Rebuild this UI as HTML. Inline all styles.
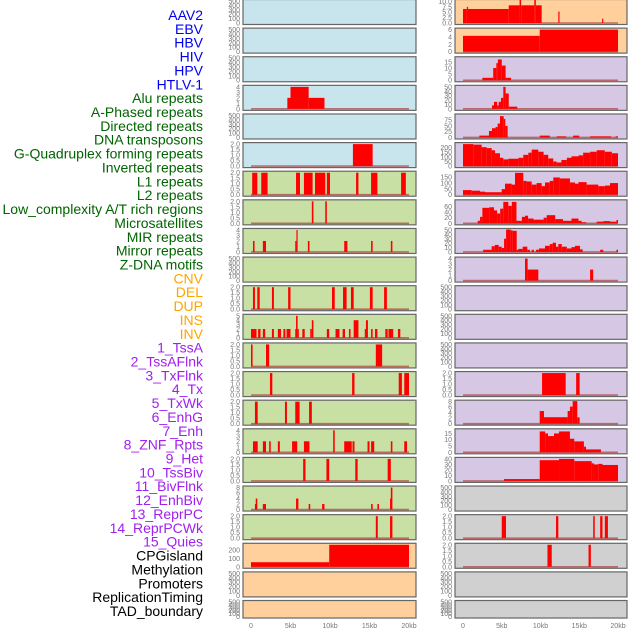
<!DOCTYPE html>
<html><head><meta charset="utf-8"><style>
html,body{margin:0;padding:0;background:#fff;width:630px;height:630px;overflow:hidden}
svg{display:block}
</style></head><body>
<svg id="chart" width="630" height="630" xmlns="http://www.w3.org/2000/svg" font-family="Liberation Sans, sans-serif"></svg>
<script>
const trackNames = ["AAV2","EBV","HBV","HIV","HPV","HTLV-1","Alu repeats","A-Phased repeats","Directed repeats","DNA transposons","G-Quadruplex forming repeats","Inverted repeats","L1 repeats","L2 repeats","Low_complexity A/T rich regions","Microsatellites","MIR repeats","Mirror repeats","Z-DNA motifs","CNV","DEL","DUP","INS","INV","1_TssA","2_TssAFlnk","3_TxFlnk","4_Tx","5_TxWk","6_EnhG","7_Enh","8_ZNF_Rpts","9_Het","10_TssBiv","11_BivFlnk","12_EnhBiv","13_ReprPC","14_ReprPCWk","15_Quies","CPGisland","Methylation","Promoters","ReplicationTiming","TAD_boundary"];
const trackGroups = ["v","v","v","v","v","v","r","r","r","r","r","r","r","r","r","r","r","r","r","s","s","s","s","s","c","c","c","c","c","c","c","c","c","c","c","c","c","c","c","o","o","o","o","o"];
const xTickKb = [0,5,10,15,20];
const xTickLabels = ["0","5kb","10kb","15kb","20kb"];
const T500=[0,100,200,300,400,500], T2=[0,0.5,1,1.5,2];
const panelTicks = [T500,T500,T500,[0,1,2,3,4],T500,T2,T2,T2,[0,1,2,3,4],T500,T2,[0,1,2,3,4,5],T2,T2,T2,[0,1,2,3,4],T2,[0,2,4,6,8],T2,[0,100,200],T500,T500,
 [0,2.5,5,7.5,10],[0,2,4,6],[0,5,10,15],[0,10,20,30,40,50],[0,25,50,75],[0,50,100,150,200],[0,50,100,150],[0,20,40,60],[0,10,20,30,40,50],[0,1,2,3,4],T500,T500,T500,T2,[0,2,4,6,8],[0,5,10,15],[0,10,20,30,40],T500,T2,T2,T500,T500];
const panelYMax = {19:265,22:10.2,24:18,26:95,27:236,28:185,29:78,37:17.5};
// segments: [startKb, endKb, value]
const panelSegs = {
3:[[4.6,5.0,2],[5.0,7.3,4],[7.3,9.3,2]],
5:[[12.9,15.4,2]],
6:[[0.15,0.8,2],[1.3,2.1,2],[5.7,6.2,2],[6.7,7.8,2],[8.1,9.4,2],[9.6,10.0,2],[13.3,13.6,2],[15.2,16.0,2],[19.0,19.6,2]],
7:[[7.7,7.9,2],[9.4,9.6,2]],
8:[[0.25,0.45,2],[1.5,1.9,2],[5.6,5.75,2],[5.75,5.9,4],[7.2,7.4,2],[11.8,12.2,2],[15.2,15.4,2],[17.7,17.9,2]],
10:[[0.25,0.5,2],[0.8,1.1,2],[2.65,2.9,2],[4.7,5.0,2],[10.25,10.6,2],[11.65,12.1,2],[12.65,13.0,2],[15.05,15.4,2],[16.85,17.2,2]],
11:[[0,0.7,2],[0.9,1.2,2],[1.5,1.8,2],[2.65,2.9,2],[3.4,3.8,2],[4.1,4.35,2],[4.5,5.0,2],[5.6,5.7,2],[5.7,5.9,5],[5.9,6.0,2],[6.5,6.8,2],[7.5,7.7,2],[7.7,7.9,4],[9.6,9.9,2],[10.7,11.2,2],[11.6,11.9,2],[12.4,12.6,2],[13.0,13.6,4],[14.4,14.55,2],[14.55,14.8,4],[15.2,15.4,2],[15.7,16.0,2],[17.0,17.3,2],[17.4,18.0,2],[18.6,18.9,2]],
12:[[0,0.2,2],[1.9,2.3,2],[15.8,16.6,2]],
13:[[2.4,2.7,2],[12.8,13.1,2],[18.7,19.1,2],[19.4,20.0,2]],
14:[[0.5,0.85,2],[4.3,4.55,2],[5.6,6.15,2],[7.35,7.7,2]],
15:[[0.25,0.85,2],[1.5,1.9,2],[2.3,2.5,2],[3.4,3.65,2],[5.2,5.85,2],[6.7,7.4,2],[10.4,10.6,4],[11.8,12.75,2],[12.85,13.1,2],[14.75,15.0,2],[15.2,15.6,2],[17.7,17.9,2],[19.4,19.75,2]],
16:[[6.6,6.9,2],[9.55,9.9,2],[13.2,13.5,2],[17.3,17.7,2]],
17:[[0.5,0.6,2],[0.6,0.8,4],[1.5,1.9,2],[5.7,6.0,4],[7.3,7.5,2],[9.0,9.3,2],[15.2,15.4,2],[16.0,16.2,2],[17.6,17.7,4],[17.7,17.9,8]],
18:[[15.8,16.05,2],[17.6,17.9,2]],
19:[[0,9.9,55],[9.9,20,265]],
22:[[0,0.5,6.5],[0.5,0.65,7.5],[0.65,5.9,6.5],[5.9,7.3,8.2],[7.3,7.5,11],[7.5,9.2,8.2],[9.2,9.4,11],[9.4,10.15,8.2],[12.3,12.45,5.3],[17.95,18.1,2]],
23:[[0,9.9,4.3],[9.9,20,6]],
24:[[2.5,3.9,2],[3.9,4.3,10],[4.3,4.5,14],[4.5,5.0,17],[5.0,5.5,12],[5.5,6.2,2]],
25:[[3.75,4.0,8],[4.0,4.4,16],[4.4,4.6,8],[4.6,4.9,16],[4.9,5.2,25],[5.2,5.5,50],[5.5,5.9,35],[5.9,7.0,5]],
26:[[2.1,3.35,8],[3.35,3.74,28],[3.74,4.2,40],[4.2,4.47,45],[4.47,4.77,60],[4.77,5.25,92],[5.25,5.46,80],[5.46,5.76,50],[9.9,11.2,8],[12.1,13.3,5],[14.2,15.0,8],[16.4,19.1,5],[19.7,20,5]],
27:[[0,1.33,236],[1.33,2.41,230],[2.41,3.05,203],[3.05,3.7,193],[3.7,4.13,170],[4.13,4.77,138],[4.77,5.2,89],[5.2,5.85,72],[5.85,7.14,79],[7.14,7.78,89],[7.78,8.43,121],[8.43,8.86,144],[8.86,9.72,177],[9.72,10.4,154],[10.4,11.0,121],[11.0,11.65,82],[11.65,12.1,49],[12.1,12.7,39],[12.7,13.4,66],[13.4,14.0,89],[14.0,14.9,105],[14.9,15.5,115],[15.5,16.4,144],[16.4,17.25,154],[17.25,18.3,170],[18.3,19.2,154],[19.2,20,138]],
28:[[0,1.12,39],[1.12,2.19,34],[2.19,2.84,26],[2.84,4.99,21],[4.99,5.42,47],[5.42,6.28,93],[6.28,6.71,85],[6.71,7.78,184],[7.78,8.21,116],[8.21,8.86,111],[8.86,9.5,85],[9.5,10.15,98],[10.15,10.58,72],[10.58,11.2,103],[11.2,11.65,116],[11.65,12.5,145],[12.5,13.8,137],[13.8,14.45,103],[14.45,14.9,93],[14.9,15.95,106],[15.95,17.46,85],[17.46,18.3,72],[18.3,18.97,77],[18.97,20,98]],
29:[[1.9,2.2,9],[2.2,2.5,23],[2.5,3.4,55],[3.4,4.0,57],[4.0,4.4,46],[4.4,4.8,35],[4.8,5.2,52],[5.2,5.85,76],[5.85,6.3,62],[6.3,6.9,76],[6.9,7.6,9],[7.6,8.0,23],[8.0,8.4,27],[8.4,9.1,17],[9.1,10.4,13],[10.4,10.8,20],[10.8,11.9,29],[11.9,12.9,15],[12.9,14.0,9],[14.0,14.9,17],[14.9,15.3,9],[15.3,15.9,4],[17.25,18.1,6],[18.1,18.97,8],[18.97,19.8,6],[19.8,20,12]],
30:[[2.6,3.7,5],[3.7,4.1,13],[4.1,4.6,16],[4.6,5.0,12],[5.0,5.3,9],[5.3,5.56,30],[5.56,6.15,51],[6.15,6.41,49],[6.41,6.93,48],[6.93,7.14,5],[7.14,7.7,7],[7.7,8.3,12],[8.3,8.64,5],[8.86,9.15,5],[9.41,9.8,5],[9.8,10.58,8],[10.58,11.2,14],[11.2,11.57,18],[11.57,12.0,21],[12.0,12.3,12],[12.3,12.74,18],[12.74,13.4,12],[13.4,14.0,8],[14.0,14.45,11],[14.45,15.1,14],[15.1,15.44,6],[17.7,18.1,5],[19.8,20,5]],
31:[[8.0,8.34,4],[8.34,9.72,2],[16.4,16.8,2]],
35:[[10.2,13.25,2],[14.6,15.05,2]],
36:[[9.9,10.45,4.6],[10.45,13.5,2.35],[13.5,13.8,4.6],[13.8,14.15,6.2],[14.15,14.75,8.2],[14.75,15.05,2.3]],
37:[[9.9,10.6,16.6],[10.6,10.97,15],[10.97,11.74,12.9],[11.74,12.39,15],[12.39,13.8,16.6],[13.8,14.36,10.8],[14.36,15.6,8.7],[15.6,15.87,4.5],[15.87,17.8,2.3]],
38:[[5.3,9.9,3.4],[9.9,12.39,37.7],[12.39,14.36,40],[14.36,16.6,36],[16.6,16.9,32],[16.9,17.46,30],[17.46,18.0,31],[18.0,20,29]],
40:[[5.0,5.55,2],[12.0,12.3,2],[16.8,17.0,2],[17.7,18.0,2],[18.3,18.7,2]],
41:[[10.9,11.45,2],[16.2,16.5,2]]
};
const groupColor = {v:"#0000ee",r:"#006400",s:"#ffa500",c:"#a020f0",o:"#000000"};
const bgOf = (i)=>{ if(i<6) return "#c8e4ec"; if(i<19) return "#c8e0a4"; if(i<24) return "#ffd09c"; if(i<39) return "#d6c8e4"; return "#d0d0d0"; };

const NS="http://www.w3.org/2000/svg";
const svg=document.getElementById("chart");
function mk(tag,attrs,parent){const e=document.createElementNS(NS,tag);for(const k in attrs)e.setAttribute(k,attrs[k]);(parent||svg).appendChild(e);return e;}
const colX0=[251,463], colPx=[7.9,7.75], rectX=[243,455], rectW=[173,172];
function xScale(col,kb){return colX0[col]+kb*colPx[col];}
const fmt=(ticks)=>{const dec=ticks.some(t=>t%1!==0);return ticks.map(t=>dec?t.toFixed(1):String(t));};

// labels
trackNames.forEach((n,i)=>{
  const t=mk("text",{x:203,y:15+i*13.86+5,"text-anchor":"end","font-size":"14",fill:groupColor[trackGroups[i]]});
  t.textContent=n;
  
  
});

// panels
trackNames.forEach((n,i)=>{
  const col=i<22?0:1, row=i%22;
  const top=-0.5+row*28.62, h=row===21?17.5:25;
  const g=mk("g",{});
  
  
  mk("rect",{x:rectX[col],y:top,width:rectW[col],height:h,fill:bgOf(i),stroke:"#666","stroke-width":1.2},g);
  const ticks=panelTicks[i];
  const ymax=panelYMax[i]!==undefined?panelYMax[i]:ticks[ticks.length-1];
  const y0=top+h-1.5, y1=top+1.5;
  const yS=v=>y0-(v/ymax)*(y0-y1);
  const labs=fmt(ticks);
  ticks.forEach((t,k)=>{
    const tx=mk("text",{x:rectX[col]-3,y:yS(t)+2.5,"text-anchor":"end","font-size":"7",fill:"#777"},g);
    tx.textContent=labs[k];
    
    
  });
  const segs=panelSegs[i];
  if(segs){
    const cp="cp"+i;
    const clip=mk("clipPath",{id:cp},g);
    mk("rect",{x:rectX[col],y:top,width:rectW[col],height:h},clip);
    const bg=mk("g",{"clip-path":"url(#"+cp+")"},g);
    mk("line",{x1:xScale(col,0),x2:xScale(col,20),y1:y0,y2:y0,stroke:"rgba(170,50,50,0.65)","stroke-width":1.6},bg);
    segs.forEach(s=>{
      const xa=xScale(col,s[0]), xb=xScale(col,s[1]);
      const r=mk("rect",{x:xa,y:yS(s[2]),width:Math.max(1.2,xb-xa),height:y0-yS(s[2]),fill:"#ff0000"},bg);
      
      
    });
  }
});

// x axis labels
[0,1].forEach(col=>{
  xTickKb.forEach((kb,k)=>{
    const t=mk("text",{x:xScale(col,kb),y:628,"text-anchor":"middle","font-size":"7",fill:"#777"});
    t.textContent=xTickLabels[k];
    
    
  });
});
</script>
</body></html>
